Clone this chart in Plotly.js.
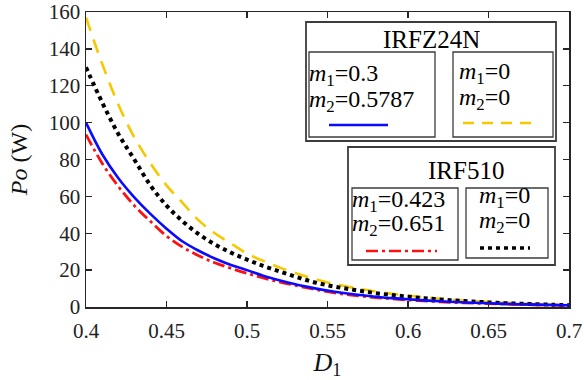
<!DOCTYPE html>
<html>
<head>
<meta charset="utf-8">
<script src="https://cdn.plot.ly/plotly-3.0.1.min.js"></script>
<style>
  html, body { margin: 0; padding: 0; background: #fff; }
  #chart { width: 584px; height: 380px; }
</style>
</head>
<body>
<div id="chart"></div>
<script>
// Duty cycle D1
var d1 = [0.40, 0.41, 0.42, 0.43, 0.44, 0.45, 0.46, 0.47, 0.48, 0.49,
          0.50, 0.51, 0.52, 0.53, 0.54, 0.55, 0.56, 0.57, 0.58, 0.59,
          0.60, 0.61, 0.62, 0.63, 0.64, 0.65, 0.66, 0.67, 0.68, 0.69, 0.70];

// Output power Po (W), IRFZ24N, m1=0.3, m2=0.5787
var poIrfz = [100, 83, 70, 59.5, 50.5, 42.5, 35.5, 30.5, 26.3, 22.8,
              20, 17, 14.5, 12.3, 10.5, 8.9, 7.6, 6.5, 5.6, 4.8,
              4.2, 3.6, 3.1, 2.7, 2.3, 2.0, 1.7, 1.5, 1.3, 1.1, 0.95];
// IRFZ24N, m1=0, m2=0
var poIrfzIdeal = [157, 132, 110, 92, 78, 66, 56.5, 47, 40, 34.5,
                   29, 25, 21.5, 18.5, 15.8, 13.3, 11.5, 9.8, 8.4, 7.2,
                   6.2, 5.3, 4.5, 3.8, 3.2, 2.7, 2.3, 1.9, 1.6, 1.3, 1.1];
// IRF510, m1=0.423, m2=0.651
var poIrf510 = [93.5, 78, 65.5, 55, 46.5, 38.5, 32.5, 27.8, 24, 21,
                18.3, 15.8, 13.6, 11.7, 9.9, 8.3, 7.0, 6.0, 5.1, 4.4,
                3.8, 3.3, 2.8, 2.4, 2.1, 1.8, 1.55, 1.35, 1.15, 1.0, 0.85];
// IRF510, m1=0, m2=0
var poIrf510Ideal = [130, 111, 94, 80, 66, 55, 46.5, 39.5, 34, 29.5,
                     25.7, 22.3, 19.4, 16.5, 13.8, 11.8, 10.2, 8.8, 7.5, 6.5,
                     5.6, 4.8, 4.1, 3.5, 3.0, 2.5, 2.1, 1.8, 1.5, 1.25, 1.0];

var xTicks = [0.4, 0.45, 0.5, 0.55, 0.6, 0.65, 0.7];
var xTickText = ['0.4', '0.45', '0.5', '0.55', '0.6', '0.65', '0.7'];
var yTicks = [0, 20, 40, 60, 80, 100, 120, 140, 160];

var BLUE = '#0a0aff', YELLOW = '#f5c800', RED = '#ff1010', BLACK = '#000000';
var DASH_Y = '14px,9px', DASH_R = '12px,4px,3px,4px', DASH_K = '4px,4px';
var SERIF = 'Liberation Serif';

var traces = [
  {x: d1, y: poIrfzIdeal, mode: 'lines', line: {color: YELLOW, width: 2.6, dash: DASH_Y, shape: 'spline'}},
  {x: d1, y: poIrf510Ideal, mode: 'lines', line: {color: BLACK, width: 4, dash: DASH_K, shape: 'spline'}},
  {x: d1, y: poIrf510, mode: 'lines', line: {color: RED, width: 2.8, dash: DASH_R, shape: 'spline'}},
  {x: d1, y: poIrfz, mode: 'lines', line: {color: BLUE, width: 2.6, shape: 'spline'}}
];

// plot area in pixels
var L = 86, R = 569, T = 12, B = 307;
function px(x) { return (x - L) / (R - L); }
function py(y) { return (B - y) / (B - T); }

var shapes = [];
var annotations = [];
function box(x0, y0, x1, y1, w, fill) {
  shapes.push({type: 'rect', xref: 'paper', yref: 'paper', layer: 'above',
    x0: px(x0), x1: px(x1), y0: py(y1), y1: py(y0),
    line: {color: '#3c3c3c', width: w}, fillcolor: fill ? '#ffffff' : 'rgba(0,0,0,0)'});
}
function sample(x0, x1, y, color, width, dash) {
  shapes.push({type: 'line', xref: 'paper', yref: 'paper', layer: 'above',
    x0: px(x0), x1: px(x1), y0: py(y), y1: py(y),
    line: {color: color, width: width, dash: dash || 'solid'}});
}
function label(x, y, text, size, anchor) {
  annotations.push({xref: 'paper', yref: 'paper', x: px(x), y: py(y),
    xanchor: anchor || 'left', yanchor: 'middle', showarrow: false,
    text: text, font: {family: SERIF, size: size || 24, color: '#000'}});
}

// IRFZ24N group
box(306, 22, 556, 141, 1.8, true);
label(431, 40, 'IRFZ24N', 25, 'center');
box(309, 52, 435, 137, 1.3);
label(307, 75, '<i>m</i><sub>1</sub>=0.3');
label(307, 101, '<i>m</i><sub>2</sub>=0.5787');
sample(329, 388, 125, BLUE, 2.6);
box(453, 52, 553, 137, 1.3);
label(457, 73, '<i>m</i><sub>1</sub>=0');
label(457, 99, '<i>m</i><sub>2</sub>=0');
sample(463, 537, 123, YELLOW, 2.6, '11px,8px');

// IRF510 group
box(348, 147, 555, 265, 1.8, true);
label(466, 170, 'IRF510', 25, 'center');
box(352, 188, 458, 260, 1.3);
label(350, 201, '<i>m</i><sub>1</sub>=0.423');
label(350, 225, '<i>m</i><sub>2</sub>=0.651');
sample(366, 437, 251, RED, 2.6, DASH_R);
box(466, 188, 548, 258, 1.3);
label(477, 197, '<i>m</i><sub>1</sub>=0');
label(477, 222, '<i>m</i><sub>2</sub>=0');
sample(480, 530, 248, BLACK, 3.5, DASH_K);

var axisCommon = {
  showgrid: false, zeroline: false, showline: true, mirror: 'ticks',
  linecolor: '#262626', linewidth: 1.5, ticks: 'inside', ticklen: 6,
  tickcolor: '#262626', tickwidth: 1.3,
  tickfont: {family: SERIF, size: 21, color: '#222'}
};

var layout = {
  width: 584, height: 380,
  margin: {l: L, r: 584 - R, t: T, b: 380 - B, pad: 0},
  paper_bgcolor: '#fff', plot_bgcolor: '#fff',
  showlegend: false,
  xaxis: Object.assign({}, axisCommon, {
    range: [0.4, 0.7], tickvals: xTicks, ticktext: xTickText,
    ticklabelstandoff: 4,
    title: {text: '<i>D</i><sub>1</sub>', font: {family: SERIF, size: 26, color: '#111'}, standoff: 12}
  }),
  yaxis: Object.assign({}, axisCommon, {
    range: [0, 160], tickvals: yTicks,
    title: {text: '<i>Po</i> (W)', font: {family: SERIF, size: 24, color: '#111'}, standoff: 14}
  }),
  shapes: shapes,
  annotations: annotations
};

Plotly.newPlot('chart', traces, layout, {staticPlot: true, displayModeBar: false});
</script>
</body>
</html>
